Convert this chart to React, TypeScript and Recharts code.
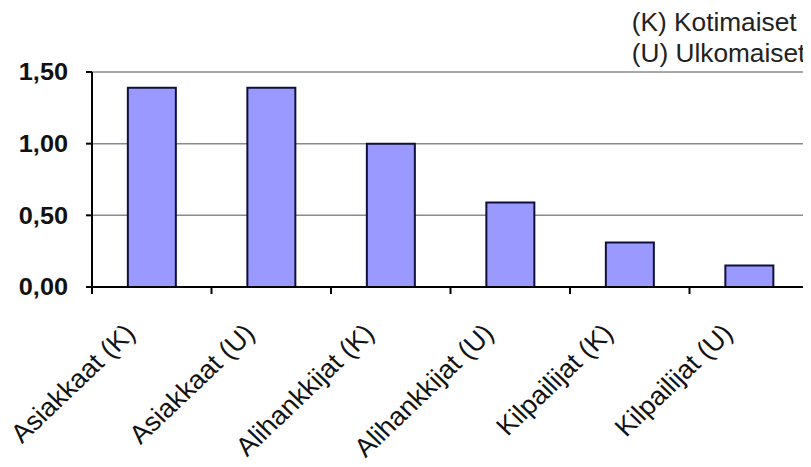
import React from "react";
import {
  BarChart,
  Bar,
  XAxis,
  YAxis,
  CartesianGrid,
} from "recharts";

// Categories and their values
const categories = [
  "Asiakkaat (K)",
  "Asiakkaat (U)",
  "Alihankkijat (K)",
  "Alihankkijat (U)",
  "Kilpailijat (K)",
  "Kilpailijat (U)",
];
const values = [1.39, 1.39, 1.0, 0.59, 0.31, 0.15];
const yTicks = [0, 0.5, 1, 1.5];
const legendLines = ["(K) Kotimaiset", "(U) Ulkomaiset"];

const data = categories.map((name, i) => ({ name, value: values[i] }));

const FONT = "'Liberation Sans', Arial, Helvetica, sans-serif";
const AXIS_Y_TICK = 7;

const fmt = (v: number) => v.toFixed(2).replace(".", ",");

// Category label, rotated, plus tick marks on the category boundaries
const XLabel = (props: any) => {
  const { x, y, payload, index, visibleTicksCount, width } = props;
  const count = visibleTicksCount || categories.length;
  const band = (Number(width) || 0) / count;
  const axisY = y - 6;
  const ax = x - 15;
  const ay = y + 42;
  const marks = [x - band / 2];
  if (index === count - 1) marks.push(x + band / 2);
  return (
    <g>
      {band > 0 &&
        marks.map((mx, i) => (
          <line
            key={i}
            x1={mx}
            x2={mx}
            y1={axisY}
            y2={axisY + AXIS_Y_TICK}
            stroke="#000"
            strokeWidth={2}
          />
        ))}
      <text
        x={0}
        y={0}
        textAnchor="end"
        transform={`translate(${ax}, ${ay}) scale(1.05, 1) rotate(-45)`}
        fontFamily={FONT}
        fontSize={26}
        fill="#111"
      >
        {payload.value}
      </text>
    </g>
  );
};

const YLabel = (props: any) => {
  const { x, y, payload } = props;
  return (
    <text
      x={0}
      y={0}
      dy="0.355em"
      textAnchor="end"
      transform={`translate(${x}, ${y}) scale(1.1, 1)`}
      fontFamily={FONT}
      fontSize={23}
      fontWeight="bold"
      fill="#111"
    >
      {fmt(payload.value)}
    </text>
  );
};

export default function App() {
  return (
    <div style={{ position: "relative", width: 811, height: 467, margin: -8, background: "#fff" }}>
      <BarChart
        width={811}
        height={467}
        data={data}
        margin={{ top: 72, right: 2, left: 0, bottom: 0 }}
        barCategoryGap="30%"
      >
        <CartesianGrid
          stroke="#8a8a8a"
          strokeWidth={1.5}
          verticalCoordinatesGenerator={({ offset }: any) => [offset.left + offset.width]}
        />
        <XAxis
          dataKey="name"
          interval={0}
          tickLine={false}
          axisLine={{ stroke: "#000", strokeWidth: 2 }}
          tick={<XLabel />}
          tickMargin={0}
          height={180}
        />
        <YAxis
          domain={[0, 1.5]}
          ticks={yTicks}
          width={92}
          axisLine={{ stroke: "#000", strokeWidth: 2 }}
          tickLine={{ stroke: "#000", strokeWidth: 2 }}
          tickSize={6}
          tickMargin={18}
          tick={<YLabel />}
        />
        <Bar
          dataKey="value"
          fill="#9999ff"
          stroke="#10103a"
          strokeWidth={2}
          isAnimationActive={false}
        />
      </BarChart>
      <div
        style={{
          position: "absolute",
          right: 6,
          top: 7,
          textAlign: "left",
          fontFamily: FONT,
          fontSize: 25,
          lineHeight: "31px",
          color: "#222",
          transform: "scaleX(1.05)",
          transformOrigin: "right top",
        }}
      >
        {legendLines.map((t) => (
          <div key={t}>{t}</div>
        ))}
      </div>
    </div>
  );
}
